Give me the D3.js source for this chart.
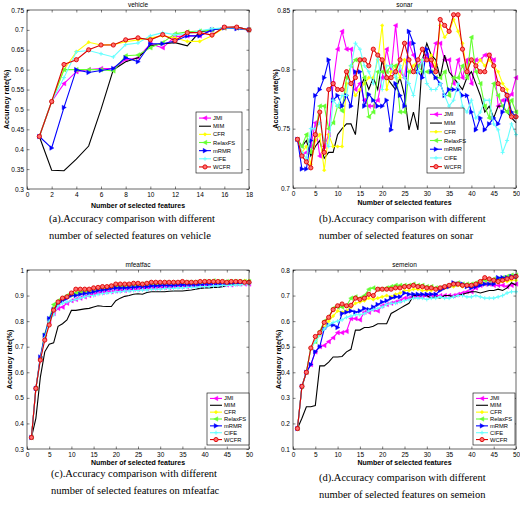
<!DOCTYPE html>
<html lang="en">
<head>
  <meta charset="UTF-8">
  <title>Accuracy comparison</title>
  <script src="https://d3js.org/d3.v7.min.js"></script>
  <style>
    body { margin: 0; background: #fff; }
    svg { display: block; }
  </style>
</head>
<body>
  <div id="chart"></div>
  <script>
    const methods = ['JMI', 'MIM', 'CFR', 'RelaxFS', 'mRMR', 'CIFE', 'WCFR'];
    const colors = ['#ff00ff', '#000000', '#ffff00', '#66ff33', '#0000ff', '#66ffff', '#dd0000'];
    const shapes = ['left', 'none', 'diamond', 'left', 'right', 'plus', 'circle'];

    // vehicle, 1..18 features
    const vehicleJMI = [0.432,0.52,0.565,0.595,0.6,0.603,0.603,0.625,0.63,0.665,0.655,0.683,0.685,0.685,0.7,0.705,0.705,0.7];
    const vehicleMIM = [0.432,0.347,0.346,0.375,0.408,0.5,0.6,0.62,0.63,0.66,0.665,0.668,0.66,0.695,0.7,0.705,0.707,0.7];
    const vehicleCFR = [0.432,0.52,0.6,0.645,0.669,0.662,0.663,0.67,0.675,0.68,0.685,0.68,0.671,0.671,0.685,0.705,0.705,0.7];
    const vehicleRelaxFS = [0.432,0.52,0.6,0.6,0.6,0.6,0.597,0.635,0.637,0.655,0.668,0.69,0.695,0.697,0.7,0.705,0.705,0.7];
    const vehicleMRMR = [0.432,0.403,0.505,0.6,0.593,0.598,0.603,0.63,0.62,0.665,0.665,0.672,0.685,0.685,0.7,0.705,0.703,0.7];
    const vehicleCIFE = [0.432,0.52,0.58,0.645,0.648,0.64,0.632,0.663,0.667,0.685,0.693,0.688,0.69,0.698,0.703,0.705,0.705,0.7];
    const vehicleWCFR = [0.432,0.52,0.613,0.625,0.65,0.662,0.662,0.675,0.68,0.675,0.688,0.673,0.693,0.693,0.687,0.707,0.707,0.7];

    // sonar, 1..50 features
    const sonarJMI = [0.741,0.727,0.730,0.735,0.755,0.727,0.735,0.745,0.788,0.817,0.832,0.817,0.817,0.783,0.788,0.774,0.769,0.769,0.774,0.793,0.817,0.798,0.837,0.798,0.793,0.822,0.812,0.803,0.808,0.812,0.803,0.822,0.822,0.808,0.808,0.788,0.808,0.793,0.808,0.788,0.808,0.808,0.812,0.812,0.808,0.769,0.774,0.774,0.779,0.793];
    const sonarMIM = [0.741,0.735,0.740,0.727,0.735,0.740,0.725,0.730,0.730,0.745,0.750,0.754,0.754,0.745,0.783,0.793,0.783,0.793,0.783,0.808,0.793,0.788,0.783,0.793,0.778,0.749,0.764,0.749,0.808,0.822,0.812,0.808,0.793,0.812,0.798,0.793,0.788,0.783,0.793,0.798,0.788,0.778,0.764,0.769,0.759,0.769,0.769,0.764,0.759,0.755];
    const sonarCFR = [0.741,0.730,0.735,0.720,0.740,0.745,0.715,0.745,0.735,0.735,0.735,0.788,0.788,0.778,0.783,0.788,0.793,0.793,0.808,0.837,0.783,0.798,0.803,0.793,0.808,0.798,0.803,0.808,0.808,0.808,0.812,0.803,0.837,0.827,0.832,0.842,0.832,0.822,0.798,0.808,0.803,0.808,0.803,0.808,0.803,0.798,0.788,0.783,0.764,0.760];
    const sonarRelaxFS = [0.741,0.735,0.745,0.730,0.745,0.769,0.769,0.750,0.755,0.769,0.765,0.793,0.803,0.808,0.808,0.793,0.760,0.764,0.798,0.798,0.798,0.803,0.803,0.764,0.764,0.798,0.798,0.803,0.798,0.798,0.798,0.793,0.793,0.798,0.778,0.793,0.793,0.803,0.793,0.827,0.798,0.788,0.769,0.759,0.788,0.778,0.769,0.764,0.774,0.764];
    const sonarMRMR = [0.741,0.716,0.716,0.740,0.778,0.783,0.793,0.808,0.774,0.778,0.769,0.778,0.769,0.798,0.798,0.769,0.779,0.774,0.769,0.769,0.774,0.749,0.788,0.778,0.769,0.832,0.822,0.798,0.793,0.817,0.798,0.793,0.788,0.778,0.783,0.783,0.783,0.778,0.778,0.764,0.749,0.759,0.749,0.754,0.759,0.754,0.764,0.779,0.764,0.760];
    const sonarCIFE = [0.741,0.730,0.725,0.750,0.750,0.755,0.740,0.735,0.774,0.769,0.778,0.778,0.803,0.822,0.817,0.803,0.798,0.788,0.812,0.783,0.803,0.803,0.793,0.803,0.793,0.788,0.778,0.798,0.808,0.788,0.783,0.783,0.788,0.778,0.769,0.774,0.788,0.769,0.764,0.774,0.759,0.764,0.774,0.774,0.754,0.749,0.730,0.740,0.754,0.745];
    const sonarWCFR = [0.741,0.727,0.722,0.717,0.745,0.764,0.730,0.783,0.788,0.783,0.783,0.798,0.788,0.793,0.808,0.808,0.803,0.817,0.812,0.808,0.793,0.793,0.798,0.808,0.822,0.808,0.798,0.808,0.817,0.808,0.808,0.798,0.842,0.837,0.832,0.846,0.846,0.817,0.798,0.808,0.803,0.798,0.798,0.812,0.803,0.788,0.783,0.778,0.760,0.760];

    // mfeatfac, 1..50 features
    const mfeatJMI = [0.345,0.537,0.65,0.735,0.8,0.83,0.85,0.855,0.87,0.88,0.885,0.89,0.895,0.9,0.905,0.91,0.912,0.915,0.915,0.918,0.92,0.92,0.922,0.925,0.925,0.928,0.928,0.93,0.93,0.932,0.932,0.932,0.935,0.935,0.935,0.935,0.938,0.938,0.938,0.94,0.94,0.94,0.942,0.942,0.942,0.942,0.945,0.945,0.945,0.945];
    const mfeatMIM = [0.345,0.42,0.58,0.68,0.71,0.715,0.78,0.79,0.805,0.842,0.842,0.845,0.848,0.85,0.855,0.86,0.858,0.857,0.857,0.88,0.89,0.897,0.9,0.905,0.907,0.905,0.912,0.915,0.915,0.915,0.915,0.917,0.918,0.918,0.918,0.92,0.922,0.925,0.928,0.93,0.93,0.932,0.932,0.935,0.94,0.942,0.944,0.945,0.946,0.948];
    const mfeatCFR = [0.345,0.537,0.655,0.74,0.8,0.85,0.87,0.885,0.895,0.9,0.91,0.91,0.915,0.915,0.92,0.925,0.928,0.93,0.932,0.935,0.935,0.938,0.94,0.94,0.94,0.942,0.942,0.945,0.945,0.945,0.948,0.948,0.948,0.948,0.95,0.95,0.95,0.95,0.95,0.952,0.952,0.952,0.952,0.952,0.952,0.955,0.955,0.955,0.958,0.958];
    const mfeatRelaxFS = [0.345,0.537,0.655,0.75,0.81,0.865,0.88,0.89,0.9,0.905,0.91,0.915,0.918,0.92,0.925,0.928,0.93,0.932,0.935,0.938,0.94,0.94,0.94,0.942,0.945,0.945,0.945,0.948,0.948,0.948,0.95,0.95,0.95,0.95,0.952,0.952,0.952,0.952,0.952,0.955,0.955,0.958,0.955,0.955,0.955,0.955,0.955,0.955,0.955,0.955];
    const mfeatMRMR = [0.345,0.537,0.66,0.745,0.81,0.845,0.865,0.88,0.89,0.9,0.9,0.905,0.908,0.91,0.915,0.92,0.922,0.925,0.928,0.93,0.93,0.93,0.932,0.932,0.935,0.935,0.935,0.938,0.938,0.94,0.94,0.94,0.94,0.942,0.942,0.942,0.942,0.942,0.942,0.945,0.945,0.945,0.945,0.945,0.945,0.948,0.948,0.948,0.95,0.95];
    const mfeatCIFE = [0.345,0.537,0.65,0.735,0.8,0.825,0.86,0.87,0.875,0.88,0.885,0.89,0.895,0.9,0.9,0.905,0.908,0.91,0.912,0.915,0.915,0.918,0.918,0.92,0.92,0.922,0.922,0.925,0.925,0.925,0.928,0.928,0.928,0.93,0.93,0.932,0.932,0.932,0.935,0.935,0.935,0.938,0.938,0.94,0.94,0.94,0.942,0.942,0.945,0.945];
    const mfeatWCFR = [0.345,0.537,0.648,0.726,0.785,0.843,0.875,0.89,0.895,0.91,0.925,0.925,0.925,0.925,0.93,0.932,0.935,0.935,0.938,0.945,0.945,0.945,0.945,0.948,0.948,0.945,0.948,0.952,0.952,0.952,0.952,0.952,0.952,0.952,0.955,0.952,0.952,0.952,0.955,0.955,0.955,0.955,0.955,0.955,0.952,0.955,0.955,0.955,0.952,0.952];

    // semeion, 1..50 features
    const semeionJMI = [0.18,0.345,0.40,0.43,0.48,0.50,0.505,0.52,0.535,0.555,0.555,0.56,0.61,0.61,0.605,0.635,0.635,0.645,0.64,0.66,0.665,0.67,0.675,0.68,0.69,0.69,0.695,0.695,0.695,0.70,0.70,0.70,0.70,0.70,0.70,0.70,0.705,0.71,0.715,0.715,0.73,0.74,0.745,0.745,0.74,0.74,0.74,0.735,0.74,0.745];
    const semeionMIM = [0.18,0.22,0.265,0.265,0.27,0.425,0.425,0.44,0.46,0.46,0.462,0.48,0.49,0.565,0.565,0.575,0.575,0.58,0.59,0.59,0.59,0.63,0.64,0.65,0.66,0.67,0.70,0.70,0.705,0.70,0.69,0.695,0.69,0.70,0.70,0.695,0.70,0.705,0.71,0.715,0.715,0.71,0.715,0.72,0.72,0.725,0.72,0.73,0.75,0.74];
    const semeionCFR = [0.18,0.345,0.40,0.495,0.52,0.545,0.575,0.60,0.62,0.64,0.635,0.64,0.655,0.67,0.675,0.68,0.69,0.685,0.69,0.695,0.70,0.695,0.705,0.71,0.72,0.72,0.725,0.725,0.72,0.72,0.72,0.725,0.73,0.73,0.735,0.735,0.74,0.735,0.74,0.74,0.745,0.745,0.745,0.745,0.75,0.75,0.755,0.755,0.76,0.76];
    const semeionRelaxFS = [0.18,0.345,0.40,0.495,0.52,0.56,0.60,0.615,0.65,0.655,0.655,0.66,0.69,0.695,0.69,0.70,0.725,0.73,0.725,0.725,0.73,0.735,0.74,0.74,0.74,0.74,0.745,0.74,0.74,0.735,0.735,0.73,0.73,0.735,0.74,0.745,0.75,0.745,0.745,0.745,0.75,0.755,0.76,0.76,0.765,0.765,0.77,0.775,0.78,0.78];
    const semeionMRMR = [0.18,0.345,0.40,0.43,0.48,0.50,0.57,0.585,0.585,0.575,0.63,0.635,0.64,0.635,0.64,0.65,0.645,0.655,0.665,0.675,0.68,0.69,0.695,0.695,0.71,0.705,0.705,0.705,0.705,0.705,0.705,0.705,0.72,0.73,0.735,0.75,0.745,0.745,0.735,0.73,0.735,0.74,0.745,0.745,0.745,0.77,0.77,0.77,0.775,0.775];
    const semeionCIFE = [0.18,0.345,0.40,0.495,0.52,0.545,0.57,0.585,0.595,0.60,0.605,0.615,0.62,0.625,0.625,0.63,0.64,0.645,0.65,0.655,0.665,0.67,0.67,0.675,0.68,0.685,0.69,0.69,0.69,0.685,0.69,0.69,0.695,0.69,0.69,0.695,0.70,0.70,0.695,0.695,0.70,0.695,0.69,0.69,0.69,0.695,0.70,0.71,0.715,0.715];
    const semeionWCFR = [0.18,0.345,0.40,0.495,0.54,0.555,0.595,0.615,0.645,0.66,0.667,0.66,0.662,0.69,0.685,0.69,0.705,0.70,0.725,0.725,0.725,0.725,0.73,0.73,0.735,0.735,0.74,0.735,0.735,0.73,0.73,0.725,0.73,0.735,0.74,0.745,0.745,0.74,0.74,0.74,0.745,0.755,0.77,0.765,0.76,0.755,0.76,0.765,0.77,0.775];

    const panels = [
      { title: 'vehicle', left: 27, top: 10, width: 222, height: 179,
        xDomain: [0, 18], xTicks: d3.range(0, 19, 2),
        yDomain: [0.3, 0.75], yTicks: [0.3,0.35,0.4,0.45,0.5,0.55,0.6,0.65,0.7,0.75],
        series: [vehicleJMI, vehicleMIM, vehicleCFR, vehicleRelaxFS, vehicleMRMR, vehicleCIFE, vehicleWCFR],
        legend: { x: 196, y: 112, w: 46, h: 61 }, yLabelX: 6, xLabelY: 208,
        caption: ['(a).Accuracy comparison with different', 'number of selected features on vehicle'], capX: 49, capY: 222, capGap: 17 },
      { title: 'sonar', left: 293, top: 10, width: 223, height: 178,
        xDomain: [0, 50], xTicks: d3.range(0, 51, 5),
        yDomain: [0.7, 0.85], yTicks: [0.7, 0.75, 0.8, 0.85],
        series: [sonarJMI, sonarMIM, sonarCFR, sonarRelaxFS, sonarMRMR, sonarCIFE, sonarWCFR],
        legend: { x: 427, y: 108, w: 37, h: 65 }, yLabelX: 275, xLabelY: 205,
        caption: ['(b).Accuracy comparison with different', 'number of selected features on sonar'], capX: 319, capY: 222, capGap: 17 },
      { title: 'mfeatfac', left: 27, top: 270, width: 222, height: 179,
        xDomain: [0, 50], xTicks: d3.range(0, 51, 5),
        yDomain: [0.3, 1], yTicks: [0.3,0.4,0.5,0.6,0.7,0.8,0.9,1],
        series: [mfeatJMI, mfeatMIM, mfeatCFR, mfeatRelaxFS, mfeatMRMR, mfeatCIFE, mfeatWCFR],
        legend: { x: 207, y: 393, w: 42, h: 52 }, yLabelX: 9, xLabelY: 465,
        caption: ['(c).Accuracy comparison with different', 'number of selected features on mfeatfac'], capX: 51, capY: 476.5, capGap: 17 },
      { title: 'semeion', left: 293, top: 270, width: 223, height: 179,
        xDomain: [0, 50], xTicks: d3.range(0, 51, 5),
        yDomain: [0.1, 0.8], yTicks: [0.1,0.2,0.3,0.4,0.5,0.6,0.7,0.8],
        series: [semeionJMI, semeionMIM, semeionCFR, semeionRelaxFS, semeionMRMR, semeionCIFE, semeionWCFR],
        legend: { x: 473, y: 393, w: 42, h: 52 }, yLabelX: 278, xLabelY: 465,
        caption: ['(d).Accuracy comparison with different', 'number of selected features on semeion'], capX: 319, capY: 480.5, capGap: 17 }
    ];

    const svg = d3.select('#chart').append('svg')
      .attr('width', 520).attr('height', 507)
      .style('font-family', 'Liberation Sans, Arial, sans-serif');

    function drawMarker(g, shape, color, cx, cy) {
      const s = 2.3;
      if (shape === 'none') return;
      if (shape === 'circle') {
        g.append('circle').attr('cx', cx).attr('cy', cy).attr('r', 2.1)
          .attr('fill', '#ff7070').attr('stroke', color).attr('stroke-width', 0.9);
      } else if (shape === 'left') {
        g.append('path').attr('d', `M${cx - s},${cy}L${cx + s * 0.8},${cy - s}L${cx + s * 0.8},${cy + s}Z`)
          .attr('fill', color).attr('stroke', color).attr('stroke-width', 0.4);
      } else if (shape === 'right') {
        g.append('path').attr('d', `M${cx + s},${cy}L${cx - s * 0.8},${cy - s}L${cx - s * 0.8},${cy + s}Z`)
          .attr('fill', color).attr('stroke', color).attr('stroke-width', 0.4);
      } else if (shape === 'diamond') {
        g.append('path').attr('d', `M${cx},${cy - 1.8}L${cx + 1.8},${cy}L${cx},${cy + 1.8}L${cx - 1.8},${cy}Z`)
          .attr('fill', color).attr('stroke', color).attr('stroke-width', 0.4);
      } else if (shape === 'plus') {
        g.append('path').attr('d', `M${cx - 2},${cy}H${cx + 2}M${cx},${cy - 2}V${cy + 2}`)
          .attr('stroke', color).attr('stroke-width', 1);
      }
    }

    panels.forEach(p => {
      const x = d3.scaleLinear().domain(p.xDomain).range([p.left, p.left + p.width]);
      const y = d3.scaleLinear().domain(p.yDomain).range([p.top + p.height, p.top]);
      const g = svg.append('g');
      const fmt = d => String(+d.toFixed(2));

      g.append('rect').attr('x', p.left).attr('y', p.top)
        .attr('width', p.width).attr('height', p.height)
        .attr('fill', '#fff');

      // series
      const line = d3.line().x((d, i) => x(i + 1)).y(d => y(d));
      p.series.forEach((vals, k) => {
        const sg = g.append('g');
        sg.append('path').datum(vals).attr('d', line)
          .attr('fill', 'none').attr('stroke', colors[k]).attr('stroke-width', 1.1);
        vals.forEach((v, i) => drawMarker(sg, shapes[k], colors[k], x(i + 1), y(v)));
      });

      // axes, ticks inward on all four sides
      const bottom = g.append('g').attr('transform', `translate(0,${p.top + p.height})`)
        .call(d3.axisBottom(x).tickValues(p.xTicks).tickSizeInner(-2.5).tickSizeOuter(0).tickPadding(3.5).tickFormat(fmt));
      const leftAx = g.append('g').attr('transform', `translate(${p.left},0)`)
        .call(d3.axisLeft(y).tickValues(p.yTicks).tickSizeInner(-2.5).tickSizeOuter(0).tickPadding(3).tickFormat(fmt));
      const topAx = g.append('g').attr('transform', `translate(0,${p.top})`)
        .call(d3.axisTop(x).tickValues(p.xTicks).tickSizeInner(-2.5).tickSizeOuter(0).tickFormat(''));
      const rightAx = g.append('g').attr('transform', `translate(${p.left + p.width},0)`)
        .call(d3.axisRight(y).tickValues(p.yTicks).tickSizeInner(-2.5).tickSizeOuter(0).tickFormat(''));
      [bottom, leftAx, topAx, rightAx].forEach(a => {
        a.select('.domain').remove();
        a.selectAll('line').attr('stroke', '#000').attr('stroke-width', 0.5);
        a.selectAll('text').attr('font-size', 6.5).attr('fill', '#000')
          .attr('font-family', 'Liberation Sans, Arial, sans-serif');
      });
      g.append('rect').attr('x', p.left).attr('y', p.top)
        .attr('width', p.width).attr('height', p.height)
        .attr('fill', 'none').attr('stroke', '#000').attr('stroke-width', 0.6);

      // title and axis labels
      g.append('text').attr('x', p.left + p.width / 2).attr('y', p.top - 3)
        .attr('text-anchor', 'middle').attr('font-size', 6.5).text(p.title);
      g.append('text').attr('x', p.left + p.width / 2).attr('y', p.xLabelY)
        .attr('text-anchor', 'middle').attr('font-size', 7).attr('font-weight', 'bold')
        .text('Number of selected features');
      g.append('text')
        .attr('transform', `translate(${p.yLabelX},${p.top + p.height / 2}) rotate(-90)`)
        .attr('text-anchor', 'middle').attr('dy', '0.35em')
        .attr('font-size', 7.3).attr('font-weight', 'bold').text('Accuracy rate(%)');

      // legend
      const L = p.legend;
      const lg = g.append('g');
      lg.append('rect').attr('x', L.x).attr('y', L.y).attr('width', L.w).attr('height', L.h)
        .attr('fill', '#fff').attr('stroke', '#000').attr('stroke-width', 0.6);
      const rowH = (L.h - 4) / methods.length;
      methods.forEach((m, k) => {
        const ry = L.y + 2 + rowH * (k + 0.5);
        lg.append('line').attr('x1', L.x + 3).attr('x2', L.x + 15).attr('y1', ry).attr('y2', ry)
          .attr('stroke', colors[k]).attr('stroke-width', 1.1);
        drawMarker(lg, shapes[k], colors[k], L.x + 9, ry);
        lg.append('text').attr('x', L.x + 17).attr('y', ry).attr('dy', '0.35em')
          .attr('font-size', 5.8).text(m);
      });

      // caption
      const cap = svg.append('text').attr('x', p.capX).attr('y', p.capY)
        .attr('font-family', 'Liberation Serif, Times New Roman, serif')
        .attr('font-size', 10.5).attr('fill', '#000');
      p.caption.forEach((t, i) => {
        cap.append('tspan').attr('x', p.capX).attr('dy', i === 0 ? 0 : p.capGap).text(t);
      });
    });
  </script>
</body>
</html>
